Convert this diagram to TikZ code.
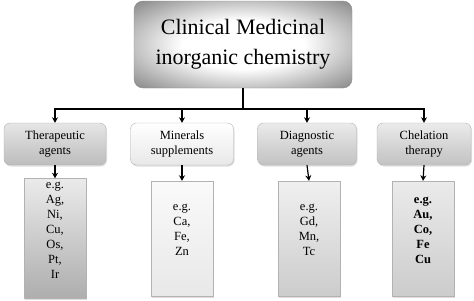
\documentclass[tikz,border=0pt]{standalone}
\usepackage{fontspec}
\setmainfont{Liberation Serif}
\usetikzlibrary{arrows.meta,shadows}

\pgfdeclareradialshading{topglow}{\pgfpoint{0bp}{0bp}}{%
  color(0bp)=(white); color(14bp)=(white); color(24bp)=(black!22);
  color(36bp)=(black!48); color(50bp)=(black!62)}

\tikzset{
  topbox/.style={draw=black!45, rounded corners=9pt, shading=topglow,
    minimum width=218pt, minimum height=87pt, align=center,
    font=\fontsize{22}{30}\selectfont},
  catbox/.style={draw=black!30, rounded corners=6pt, minimum height=42pt, align=center,
    font=\fontsize{12.5}{15}\selectfont, drop shadow={opacity=0.25,shadow xshift=1pt,shadow yshift=-1.5pt}},
  listbox/.style={draw=black!30, minimum width=62pt, minimum height=115pt, align=center,
    font=\fontsize{12.5}{15}\selectfont, drop shadow={opacity=0.25,shadow xshift=1pt,shadow yshift=-1.5pt}},
  arr/.style={line width=1.2pt, -{Stealth[length=5.5pt,width=6pt]}},
}

\begin{document}
\begin{tikzpicture}[x=1pt,y=1pt]
    \useasboundingbox (0,0) rectangle (474,-300);

    % 主标题
    \node[topbox] (top) at (243,-44.5) {Clinical Medicinal\\inorganic chemistry};

    % 分类
    \node[catbox, minimum width=102pt, top color=black!10, bottom color=black!26] (cat1) at (55,-144) {Therapeutic\\agents};
    \node[catbox, minimum width=103pt, top color=white, bottom color=black!9] (cat2) at (182,-144) {Minerals\\supplements};
    \node[catbox, minimum width=99pt, top color=black!8, bottom color=black!24] (cat3) at (307,-144) {Diagnostic\\agents};
    \node[catbox, minimum width=94pt, top color=black!8, bottom color=black!24] (cat4) at (424,-144) {Chelation\\therapy};

    % 例子
    \node[listbox, top color=black!8, bottom color=black!32] (ex1) at (55,-238.5) {e.g.\\Ag,\\Ni,\\Cu,\\Os,\\Pt,\\Ir\\[2pt]};
    \node[listbox, top color=black!2, bottom color=black!9] (ex2) at (182,-238.5) {e.g.\\Ca,\\Fe,\\Zn\\[2pt]};
    \node[listbox, top color=black!6, bottom color=black!20] (ex3) at (309,-238.5) {e.g.\\Gd,\\Mn,\\Tc\\[2pt]};
    \node[listbox, top color=black!8, bottom color=black!20, font=\fontsize{12.5}{15}\selectfont\bfseries] (ex4) at (423,-238.5) {e.g.\\Au,\\Co,\\Fe\\Cu\\[2pt]};

    % 连线
    \coordinate (bus) at (0,-109);
    \foreach \i in {1,...,4} {
        \draw[arr] (top.south) -- (top.south |- bus) -| (cat\i.north);
        \draw[arr] (cat\i.south) -- (ex\i.north);
    }
\end{tikzpicture}
\end{document}
